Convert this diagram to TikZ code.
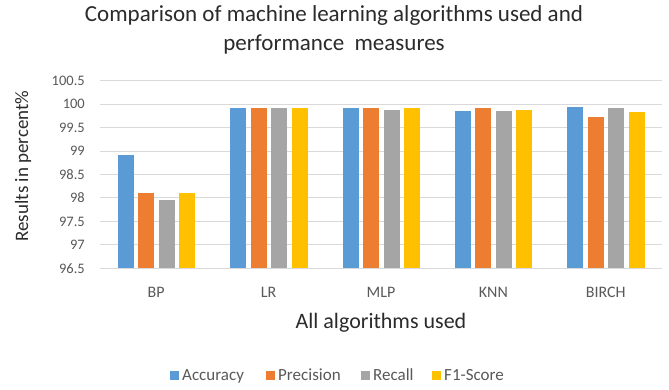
\documentclass[tikz,border=0pt]{standalone}
\usepackage{fontspec}
\setmainfont{Carlito}
\definecolor{c0}{HTML}{5B9BD5}
\definecolor{c1}{HTML}{ED7D31}
\definecolor{c2}{HTML}{A5A5A5}
\definecolor{c3}{HTML}{FFC000}
\definecolor{gridc}{HTML}{D9D9D9}
\definecolor{txtgray}{HTML}{595959}
\definecolor{txtdark}{HTML}{2B2B2B}
\tikzset{
  gridline/.style={draw=gridc, line width=1pt},
  ticklabel/.style={anchor=east, inner sep=0pt, text=txtgray, font=\fontsize{14.5}{16}\selectfont},
  catlabel/.style={anchor=center, inner sep=0pt, text=txtgray, font=\fontsize{16}{18}\selectfont},
  axtitle/.style={inner sep=0pt, text=txtdark, font=\fontsize{22}{24}\selectfont},
  legsq/.style={minimum size=9pt, inner sep=0pt, anchor=west},
  legtext/.style={anchor=base west, inner sep=0pt, text=txtgray, font=\fontsize{17}{18}\selectfont},
}
\begin{document}
\begin{tikzpicture}[x=1pt,y=-1pt]
\useasboundingbox (0,0) rectangle (669,389);
\fill[white] (0,0) rectangle (669,389);
% title
\node[align=center, inner sep=0pt, text=txtdark, font=\fontsize{23}{29}\selectfont] (title) at (334,30)
  {Comparison of machine learning algorithms used and\\performance\ \ measures};
% gridlines
\foreach \k in {1,...,8} {
  \draw[gridline] (100,{268.3-\k*23.45}) -- (662,{268.3-\k*23.45});
}
% tick labels
\foreach \k/\lab in {0/96.5,1/97,2/97.5,3/98,4/98.5,5/99,6/99.5,7/100,8/100.5} {
  \node[ticklabel] (tick\k) at (85,{268.3-\k*23.45}) {\lab};
}
% bars
\foreach \i/\nm/\va/\vb/\vc/\vd in {0/BP/98.92/98.11/97.95/98.11,
    1/LR/99.91/99.91/99.91/99.91,
    2/MLP/99.91/99.91/99.88/99.91,
    3/KNN/99.85/99.91/99.85/99.88,
    4/BIRCH/99.94/99.73/99.91/99.83} {
  \pgfmathsetmacro{\cx}{100+(\i+0.5)*112.4}
  \foreach \v [count=\j from 0] in {\va,\vb,\vc,\vd} {
    \fill[c\j] ({\cx-38.5+\j*20.5},268.3) rectangle ++(16,{-(\v-96.5)*46.9});
  }
  \node[catlabel] (cat\i) at (\cx,292) {\nm};
}
% x axis line
\draw[gridline] (100,268.3) -- (662,268.3);
% axis titles
\node[axtitle] (xtitle) at (381,323) {All algorithms used};
\node[axtitle, rotate=90, font=\fontsize{19}{20}\selectfont] (ytitle) at (23,166) {Results in percent\%};
% legend
\node[legsq, fill=c0] (lq0) at (170,375) {};
\node[legtext] (lt0) at (182,380.5) {Accuracy};
\node[legsq, fill=c1] (lq1) at (266,375) {};
\node[legtext] (lt1) at (278,380.5) {Precision};
\node[legsq, fill=c2] (lq2) at (361,375) {};
\node[legtext] (lt2) at (373,380.5) {Recall};
\node[legsq, fill=c3] (lq3) at (432,375) {};
\node[legtext] (lt3) at (444,380.5) {F1-Score};
\end{tikzpicture}
\end{document}
